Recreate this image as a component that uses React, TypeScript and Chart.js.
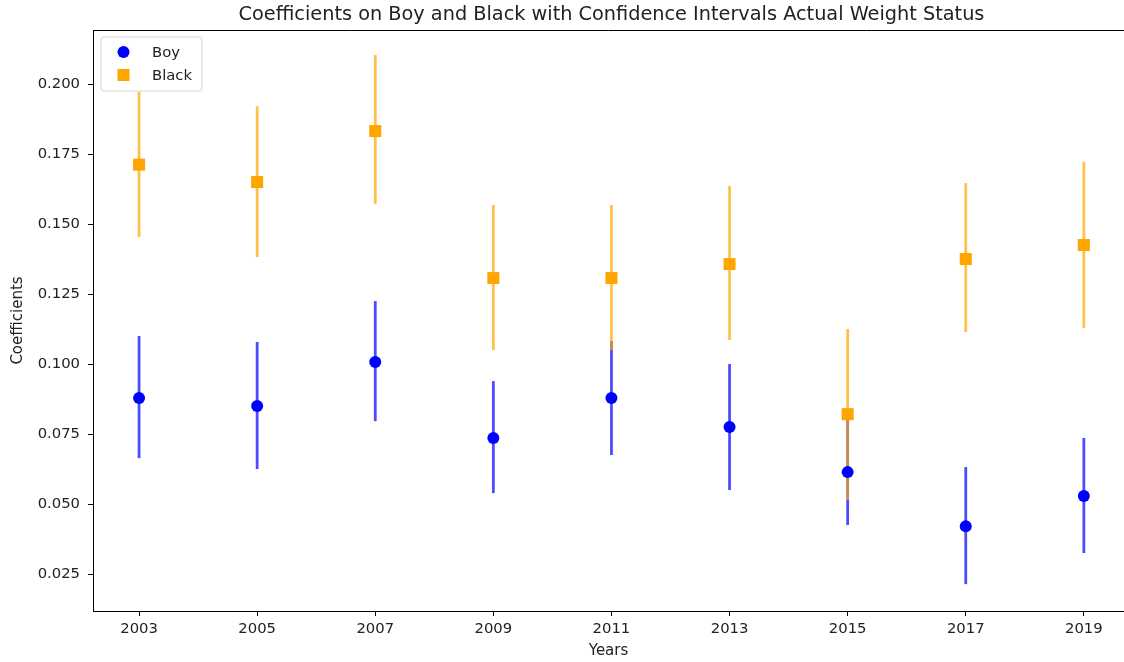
import React, { useEffect, useRef } from "react";
import { Chart, registerables } from "chart.js";

Chart.register(...registerables);

const years = [2003, 2005, 2007, 2009, 2011, 2013, 2015, 2017, 2019];
const boyCoef = [0.0879, 0.085, 0.1007, 0.0736, 0.0879, 0.0775, 0.0614, 0.0421, 0.0529];
const boyLower = [0.0664, 0.0625, 0.0796, 0.0539, 0.0675, 0.055, 0.0425, 0.0214, 0.0325];
const boyUpper = [0.11, 0.1079, 0.1225, 0.0939, 0.1082, 0.1, 0.0805, 0.0632, 0.0736];
const blackCoef = [0.1712, 0.165, 0.1832, 0.1307, 0.1307, 0.1357, 0.0821, 0.1375, 0.1425];
const blackLower = [0.1454, 0.1382, 0.1571, 0.105, 0.105, 0.1086, 0.0514, 0.1114, 0.1129];
const blackUpper = [0.1972, 0.1921, 0.2104, 0.1568, 0.1568, 0.1636, 0.1125, 0.1646, 0.1721];
const yTicks = [0.025, 0.05, 0.075, 0.1, 0.125, 0.15, 0.175, 0.2];

const TITLE = "Coefficients on Boy and Black with Confidence Intervals Actual Weight Status";
const FONT = "'DejaVu Sans', sans-serif";
const TEXT = "#222";

const series = [
  { label: "Boy", coef: boyCoef, lower: boyLower, upper: boyUpper, color: "#0000ff", bar: "rgba(0,0,255,0.7)", style: "circle" },
  { label: "Black", coef: blackCoef, lower: blackLower, upper: blackUpper, color: "#ffa500", bar: "rgba(255,165,0,0.7)", style: "rect" },
];

const errorBarPlugin = {
  id: "errorBars",
  beforeDatasetsDraw(chart: any) {
    const { ctx, scales } = chart;
    const xs = scales.x;
    const ys = scales.y;
    ctx.save();
    ctx.lineWidth = 2.8;
    ctx.lineCap = "butt";
    series.forEach((s) => {
      ctx.strokeStyle = s.bar;
      years.forEach((yr, i) => {
        const x = xs.getPixelForValue(yr);
        ctx.beginPath();
        ctx.moveTo(x, ys.getPixelForValue(s.lower[i]));
        ctx.lineTo(x, ys.getPixelForValue(s.upper[i]));
        ctx.stroke();
      });
    });
    ctx.restore();
  },
};

const decorPlugin = {
  id: "decor",
  afterDraw(chart: any) {
    const { ctx, chartArea } = chart;
    ctx.save();
    // top spine
    ctx.strokeStyle = "#000";
    ctx.lineWidth = 1;
    ctx.beginPath();
    ctx.moveTo(chartArea.left, chartArea.top + 0.5);
    ctx.lineTo(chartArea.right, chartArea.top + 0.5);
    ctx.stroke();
    // title
    ctx.fillStyle = TEXT;
    ctx.font = `19.3px ${FONT}`;
    ctx.textAlign = "center";
    ctx.textBaseline = "alphabetic";
    ctx.fillText(TITLE, 611.5, 19.5);
    // legend
    const bx = 101, by = 37, bw = 101, bh = 54, r = 3;
    ctx.fillStyle = "rgba(255,255,255,0.8)";
    ctx.strokeStyle = "#d6d6d6";
    ctx.lineWidth = 1;
    ctx.beginPath();
    ctx.moveTo(bx + r, by);
    ctx.lineTo(bx + bw - r, by);
    ctx.arcTo(bx + bw, by, bx + bw, by + r, r);
    ctx.lineTo(bx + bw, by + bh - r);
    ctx.arcTo(bx + bw, by + bh, bx + bw - r, by + bh, r);
    ctx.lineTo(bx + r, by + bh);
    ctx.arcTo(bx, by + bh, bx, by + bh - r, r);
    ctx.lineTo(bx, by + r);
    ctx.arcTo(bx, by, bx + r, by, r);
    ctx.closePath();
    ctx.fill();
    ctx.stroke();
    ctx.font = `14.8px ${FONT}`;
    ctx.textAlign = "left";
    ctx.textBaseline = "middle";
    series.forEach((s, i) => {
      const cy = 52 + i * 23;
      ctx.fillStyle = s.color;
      if (s.style === "circle") {
        ctx.beginPath();
        ctx.arc(123.5, cy, 6, 0, Math.PI * 2);
        ctx.fill();
      } else {
        ctx.fillRect(117.5, cy - 6, 12, 12);
      }
      ctx.fillStyle = TEXT;
      ctx.fillText(s.label, 152, cy + 1);
    });
    ctx.restore();
  },
};

export default function App() {
  const ref = useRef<HTMLCanvasElement | null>(null);

  useEffect(() => {
    document.body.style.margin = "0";
    const canvas = ref.current;
    if (!canvas) return;
    const tickFont = { family: FONT, size: 14.8 };
    const labelFont = { family: FONT, size: 15 };
    const chart = new Chart(canvas, {
      type: "scatter",
      data: {
        datasets: series.map((s) => ({
          label: s.label,
          data: years.map((yr, i) => ({ x: yr, y: s.coef[i] })),
          pointStyle: s.style as any,
          pointRadius: s.style === "circle" ? 6 : 8.5,
          pointBackgroundColor: s.color,
          pointBorderColor: s.color,
          pointBorderWidth: 0,
          showLine: false,
        })),
      },
      options: {
        responsive: false,
        animation: false,
        devicePixelRatio: 1,
        layout: { autoPadding: false, padding: { top: 30, left: 0, right: 0, bottom: 0 } },
        plugins: {
          legend: { display: false },
          title: { display: false },
          tooltip: { enabled: false },
        },
        scales: {
          x: {
            type: "linear",
            min: 2002.22,
            max: 2019.68,
            afterBuildTicks: (s: any) => {
              s.ticks = years.map((v) => ({ value: v }));
            },
            afterFit: (s: any) => {
              s.height = 51;
              s.paddingLeft = 0;
              s.paddingRight = 0;
            },
            grid: { drawOnChartArea: false, drawTicks: true, tickLength: 5, tickColor: "#000", tickWidth: 1 },
            border: { display: true, color: "#000", width: 1 },
            ticks: {
              font: tickFont,
              color: TEXT,
              padding: 4,
              maxRotation: 0,
              autoSkip: false,
              callback: (v: any) => String(v),
            },
            title: {
              display: true,
              text: "Years",
              font: labelFont,
              color: TEXT,
              padding: { top: 0, bottom: 2 },
            },
          },
          y: {
            type: "linear",
            min: 0.0118,
            max: 0.2193,
            afterBuildTicks: (s: any) => {
              s.ticks = yTicks.map((v) => ({ value: v }));
            },
            afterFit: (s: any) => {
              s.width = 93;
              s.paddingTop = 0;
              s.paddingBottom = 0;
            },
            grid: { drawOnChartArea: false, drawTicks: true, tickLength: 5, tickColor: "#000", tickWidth: 1 },
            border: { display: true, color: "#000", width: 1 },
            ticks: {
              font: tickFont,
              color: TEXT,
              padding: 8,
              autoSkip: false,
              callback: (v: any) => Number(v).toFixed(3),
            },
            title: {
              display: true,
              text: "Coefficients",
              font: labelFont,
              color: TEXT,
              padding: { top: 9, bottom: 0 },
            },
          },
        },
      },
      plugins: [errorBarPlugin, decorPlugin],
    });
    return () => chart.destroy();
  }, []);

  return (
    <div style={{ width: 1124, height: 662, background: "#fff" }}>
      <canvas ref={ref} width={1124} height={662} style={{ display: "block" }} />
    </div>
  );
}
